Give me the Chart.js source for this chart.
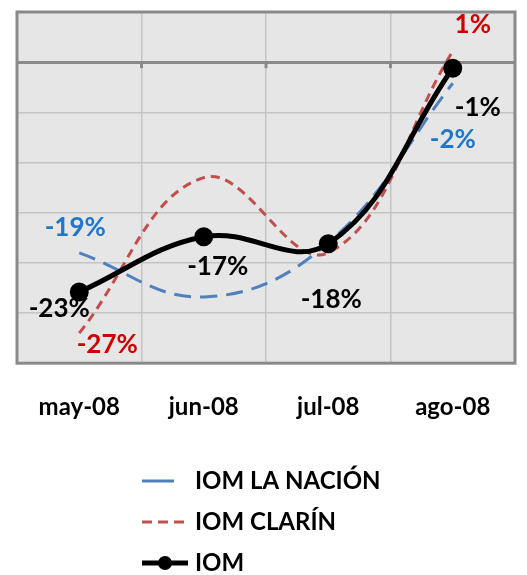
<!DOCTYPE html>
<html lang="es">
<head>
<meta charset="utf-8">
<title>IOM</title>
<script src="https://cdn.jsdelivr.net/npm/chart.js@4.4.1/dist/chart.umd.min.js"></script>
<style>
    body { margin: 0; background: #fff; }
</style>
</head>
<body>
<canvas id="iomChart" width="527" height="575"></canvas>

<script type="text/javascript">

    const meses = ["may-08", "jun-08", "jul-08", "ago-08"];
    const iomLaNacion = [-19, -23.4, -18, -2.1];
    const iomClarin = [-27, -11.5, -19, 1.1];
    const iom = [-22.9, -17.4, -18.1, -0.6];

    const labelFont = "bold 26px Lato";

    // fondo gris, borde del área y marcas sobre la línea del cero
    const areaPlugin = {
        id: "areaPlugin",
        beforeDraw(chart) {
            const a = chart.chartArea;
            const ctx = chart.ctx;
            ctx.save();
            ctx.fillStyle = "#e6e6e6";
            ctx.fillRect(a.left, a.top, a.right - a.left, a.bottom - a.top);
            ctx.restore();
        },
        beforeDatasetsDraw(chart) {
            const a = chart.chartArea;
            const ctx = chart.ctx;
            const xs = chart.scales.x;
            const y0 = chart.scales.y.getPixelForValue(0);
            ctx.save();
            ctx.strokeStyle = "#8a8a8a";
            ctx.lineWidth = 3;
            for (let i = 1; i < meses.length; i++) {
                const x = (xs.getPixelForTick(i - 1) + xs.getPixelForTick(i)) / 2;
                ctx.beginPath();
                ctx.moveTo(x, y0);
                ctx.lineTo(x, y0 + 6);
                ctx.stroke();
            }
            ctx.strokeRect(a.left, a.top, a.right - a.left, a.bottom - a.top);
            ctx.restore();
        }
    };

    // etiquetas de datos
    const valueLabels = {
        id: "valueLabels",
        afterDatasetsDraw(chart) {
            const ctx = chart.ctx;
            ctx.save();
            ctx.font = labelFont;
            ctx.textAlign = "center";
            ctx.textBaseline = "middle";
            chart.data.datasets.forEach((ds, di) => {
                const meta = chart.getDatasetMeta(di);
                (ds.valueLabelOffsets || []).forEach((off, i) => {
                    if (!off) return;
                    const pt = meta.data[i];
                    ctx.fillStyle = ds.labelColor;
                    ctx.fillText(Math.round(ds.data[i]) + "%", pt.x + off[0], pt.y + off[1]);
                });
            });
            ctx.restore();
        }
    };

    // leyenda vertical
    const verticalLegend = {
        id: "verticalLegend",
        afterDraw(chart) {
            const ctx = chart.ctx;
            ctx.save();
            ctx.font = "bold 24px Lato";
            ctx.textBaseline = "middle";
            ctx.textAlign = "left";
            chart.data.datasets.forEach((ds, i) => {
                const y = 481 + i * 41;
                ctx.strokeStyle = ds.borderColor;
                ctx.lineWidth = ds.borderWidth;
                ctx.setLineDash(ds.legendDash || []);
                ctx.beginPath();
                ctx.moveTo(142, y);
                ctx.lineTo(188, y);
                ctx.stroke();
                ctx.setLineDash([]);
                if (ds.pointRadius) {
                    ctx.fillStyle = ds.borderColor;
                    ctx.beginPath();
                    ctx.arc(165, y, ds.pointRadius, 0, Math.PI * 2);
                    ctx.fill();
                }
                ctx.fillStyle = "#000";
                ctx.fillText(ds.label, 195, y);
            });
            ctx.restore();
        }
    };

    new Chart("iomChart", {
        type: "line",
        data: {
            labels: meses,
            datasets: [
                {
                    label: "IOM LA NACIÓN",
                    data: iomLaNacion,
                    borderColor: "#4f81bd",
                    borderWidth: 3,
                    borderDash: [17, 9],
                    legendDash: [32, 100],
                    tension: 0.4,
                    pointRadius: 0,
                    labelColor: "#1f77cc",
                    valueLabelOffsets: [[-4, -25], null, null, [0, 56]],
                    order: 2
                },
                {
                    label: "IOM CLARÍN",
                    data: iomClarin,
                    borderColor: "#c0504d",
                    borderWidth: 3,
                    borderDash: [9, 6],
                    legendDash: [10, 6],
                    tension: 0.4,
                    pointRadius: 0,
                    labelColor: "#cc0000",
                    valueLabelOffsets: [[28, 12], null, null, [20, -27]],
                    order: 1
                },
                {
                    label: "IOM",
                    data: iom,
                    borderColor: "#000000",
                    backgroundColor: "#000000",
                    borderWidth: 5,
                    tension: 0.4,
                    pointRadius: 7,
                    pointBackgroundColor: "#000000",
                    labelColor: "#000000",
                    valueLabelOffsets: [[-20, 17], [14, 30], [3, 56], [25, 39]],
                    order: 0
                }
            ]
        },
        options: {
            responsive: false,
            animation: false,
            layout: {padding: {left: 17, right: 12, top: 10, bottom: 123}},
            plugins: {
                legend: {display: false},
                tooltip: {enabled: false}
            },
            scales: {
                x: {
                    offset: true,
                    grid: {offset: true, color: "#c4c4c4", lineWidth: 1.5, drawTicks: false},
                    border: {display: false},
                    ticks: {color: "#000", padding: 30, font: {family: "Lato", size: 24, weight: "bold"}}
                },
                y: {
                    min: -30,
                    max: 5,
                    ticks: {stepSize: 5, display: false},
                    border: {display: false},
                    grid: {
                        drawTicks: false,
                        color: c => c.tick && c.tick.value === 0 ? "#8a8a8a" : "#c4c4c4",
                        lineWidth: c => c.tick && c.tick.value === 0 ? 3 : 1.5
                    }
                }
            }
        },
        plugins: [areaPlugin, valueLabels, verticalLegend]
    });

</script>
</body>
</html>
